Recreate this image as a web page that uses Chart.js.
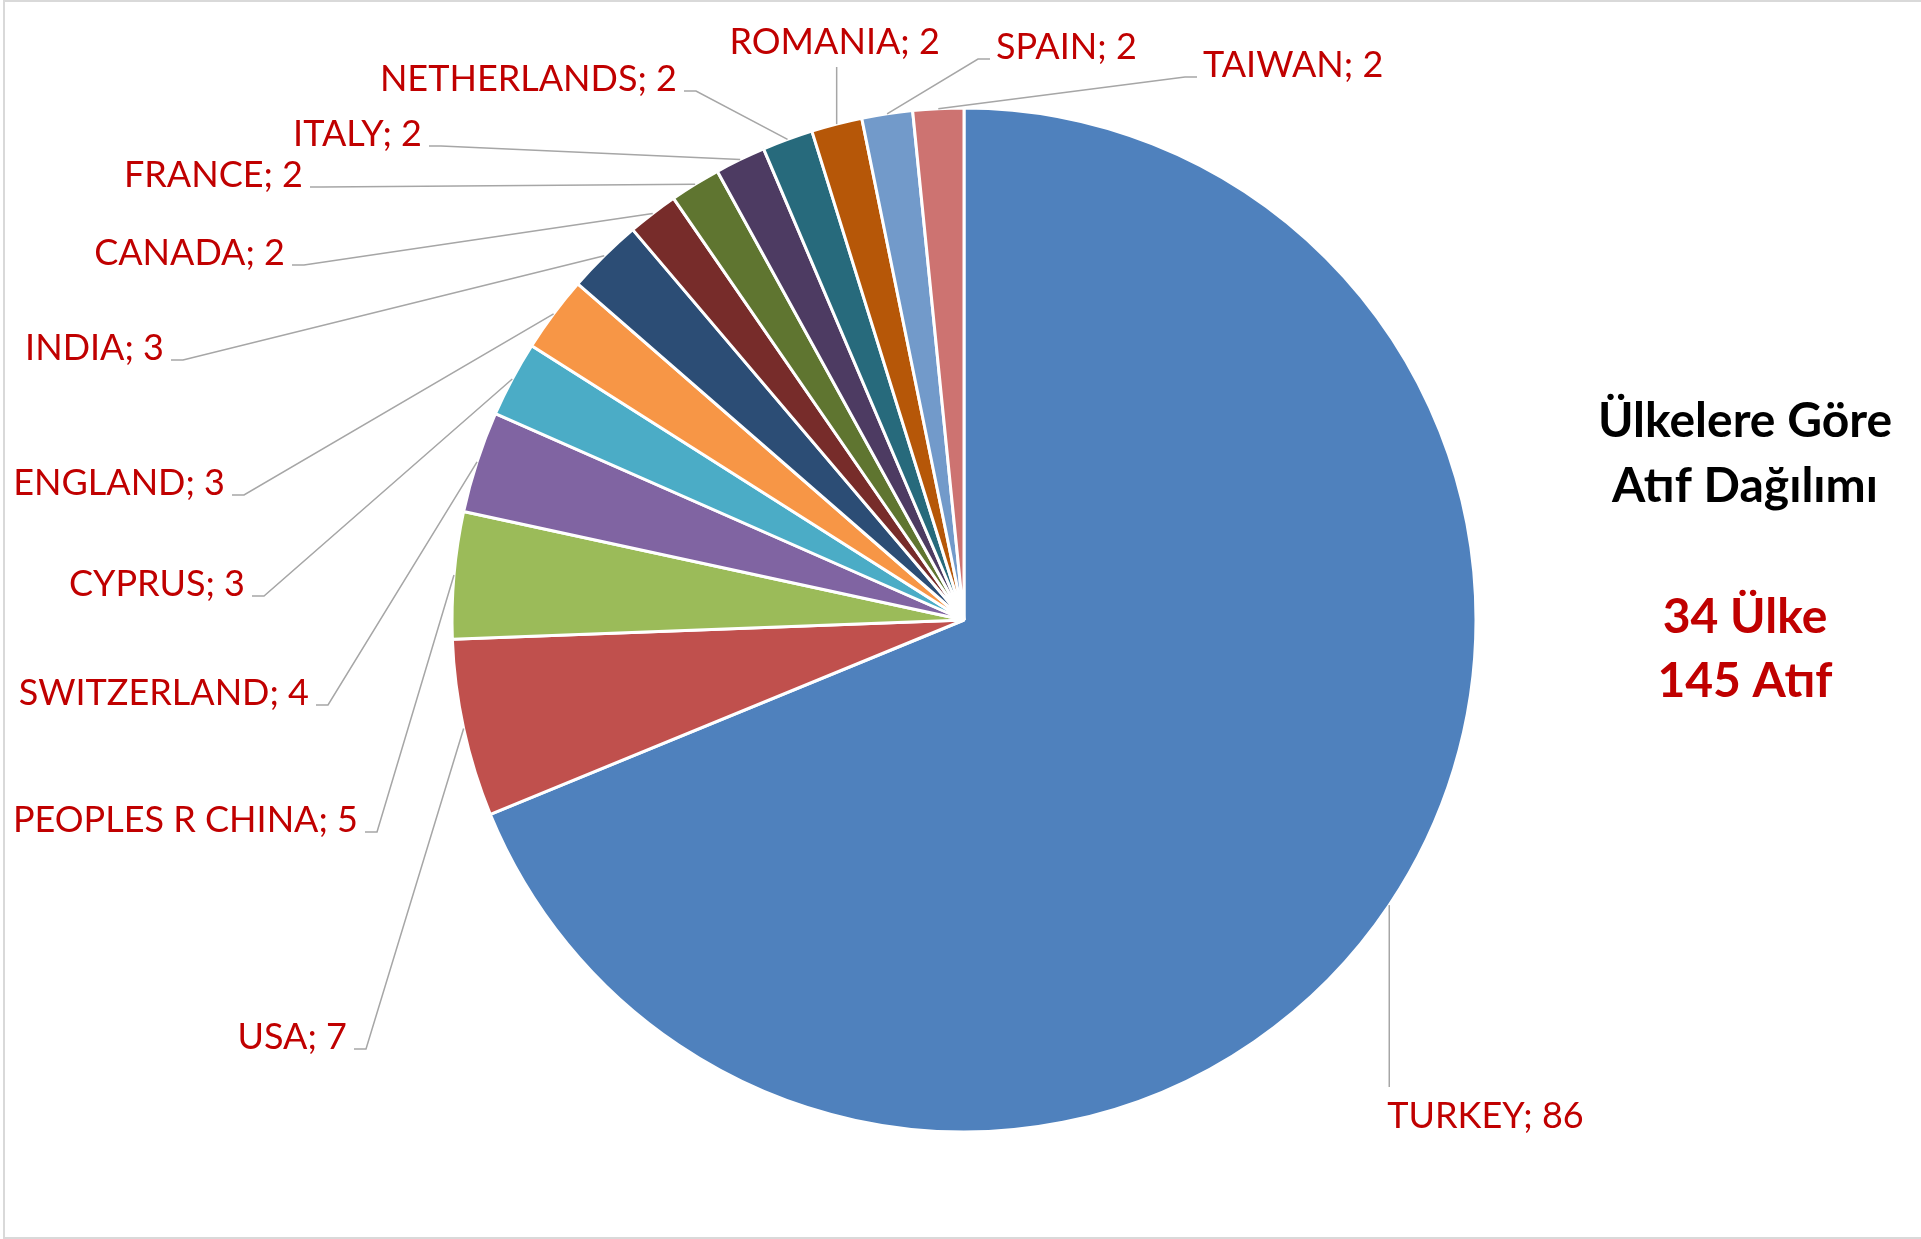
<!DOCTYPE html>
<html>
<head>
  <title>Ülkelere Göre Atıf Dağılımı</title>
  <script src="https://cdn.jsdelivr.net/npm/chart.js"></script>
  <style>
    body { margin: 0; background: #fff; }
  </style>
</head>
<body>
  <canvas id="myChart" width="1921" height="1239"></canvas>

  <script>
    // data
    const countries = ['TURKEY', 'USA', 'PEOPLES R CHINA', 'SWITZERLAND', 'CYPRUS', 'ENGLAND', 'INDIA',
      'CANADA', 'FRANCE', 'ITALY', 'NETHERLANDS', 'ROMANIA', 'SPAIN', 'TAIWAN'];
    const citations = [86, 7, 5, 4, 3, 3, 3, 2, 2, 2, 2, 2, 2, 2];
    const sliceColors = ['#4F81BD', '#C0504D', '#9BBB59', '#8064A2', '#4BACC6', '#F79646', '#2C4D75',
      '#772C2A', '#5F7530', '#4D3B62', '#276A7C', '#B65708', '#729ACA', '#CD7371'];
    const titleLines = ['Ülkelere Göre', 'Atıf Dağılımı'];
    const summaryLines = ['34 Ülke', '145 Atıf'];

    // where each data label sits: elbow of the leader line + which side the text is on
    const labelLayout = [
      { side: 'B', x: 1388, y: 1087 },
      { side: 'L', x: 366, y: 1049 },
      { side: 'L', x: 377, y: 832 },
      { side: 'L', x: 328, y: 705 },
      { side: 'L', x: 264, y: 596 },
      { side: 'L', x: 244, y: 495 },
      { side: 'L', x: 183, y: 360 },
      { side: 'L', x: 304, y: 265 },
      { side: 'L', x: 322, y: 187 },
      { side: 'L', x: 441, y: 146 },
      { side: 'L', x: 696, y: 91 },
      { side: 'T', x: 836, y: 67 },
      { side: 'R', x: 978, y: 59 },
      { side: 'R', x: 1185, y: 77 }
    ];

    const LABEL_FONT = '36px Lato';
    const LABEL_COLOR = '#C00000';
    const LEADER_COLOR = '#A6A6A6';

    const labelPlugin = {
      id: 'pieLabels',
      beforeDraw(chart) {
        const ctx = chart.ctx;
        ctx.save();
        ctx.strokeStyle = '#D9D9D9';
        ctx.lineWidth = 2;
        ctx.strokeRect(4, 1, chart.width + 10, chart.height - 2);
        ctx.restore();
      },
      afterDatasetsDraw(chart) {
        const ctx = chart.ctx;
        const arcs = chart.getDatasetMeta(0).data;
        ctx.save();
        ctx.font = LABEL_FONT;
        ctx.textBaseline = 'alphabetic';
        arcs.forEach((arc, i) => {
          const p = arc.getProps(['x', 'y', 'startAngle', 'endAngle', 'outerRadius']);
          const mid = (p.startAngle + p.endAngle) / 2;
          const ex = p.x + Math.cos(mid) * p.outerRadius;
          const ey = p.y + Math.sin(mid) * p.outerRadius;
          const lay = labelLayout[i];
          const text = countries[i] + '; ' + citations[i];

          ctx.strokeStyle = LEADER_COLOR;
          ctx.lineWidth = 1.5;
          ctx.beginPath();
          ctx.moveTo(ex, ey);
          if (lay.side === 'L') {
            ctx.lineTo(lay.x, lay.y);
            ctx.lineTo(lay.x - 12, lay.y);
          } else if (lay.side === 'R') {
            ctx.lineTo(lay.x, lay.y);
            ctx.lineTo(lay.x + 12, lay.y);
          } else {
            ctx.lineTo(ex, lay.y);
          }
          ctx.stroke();

          ctx.fillStyle = LABEL_COLOR;
          if (lay.side === 'L') {
            ctx.textAlign = 'right';
            ctx.fillText(text, lay.x - 19, lay.y);
          } else if (lay.side === 'R') {
            ctx.textAlign = 'left';
            ctx.fillText(text, lay.x + 18, lay.y);
          } else if (lay.side === 'T') {
            ctx.textAlign = 'center';
            ctx.fillText(text, ex - 2, lay.y - 13);
          } else {
            ctx.textAlign = 'left';
            ctx.fillText(text, ex - 2, lay.y + 41);
          }
        });

        // side title
        ctx.textAlign = 'center';
        ctx.font = 'bold 48px Lato';
        ctx.fillStyle = '#000000';
        ctx.fillText(titleLines[0], 1745, 437);
        ctx.fillText(titleLines[1], 1745, 502);
        ctx.fillStyle = LABEL_COLOR;
        ctx.fillText(summaryLines[0], 1745, 633);
        ctx.fillText(summaryLines[1], 1745, 697);
        ctx.restore();
      }
    };

    const ctx = document.getElementById('myChart').getContext('2d');
    const myChart = new Chart(ctx, {
      type: 'pie',
      data: {
        labels: countries,
        datasets: [{
          data: citations,
          backgroundColor: sliceColors,
          borderColor: '#FFFFFF',
          borderWidth: 3,
          radius: 512
        }]
      },
      options: {
        responsive: false,
        animation: false,
        layout: { padding: { left: 57, right: 50, top: 50, bottom: 49 } },
        plugins: {
          legend: { display: false },
          tooltip: { enabled: false }
        }
      },
      plugins: [labelPlugin]
    });
  </script>
</body>
</html>
